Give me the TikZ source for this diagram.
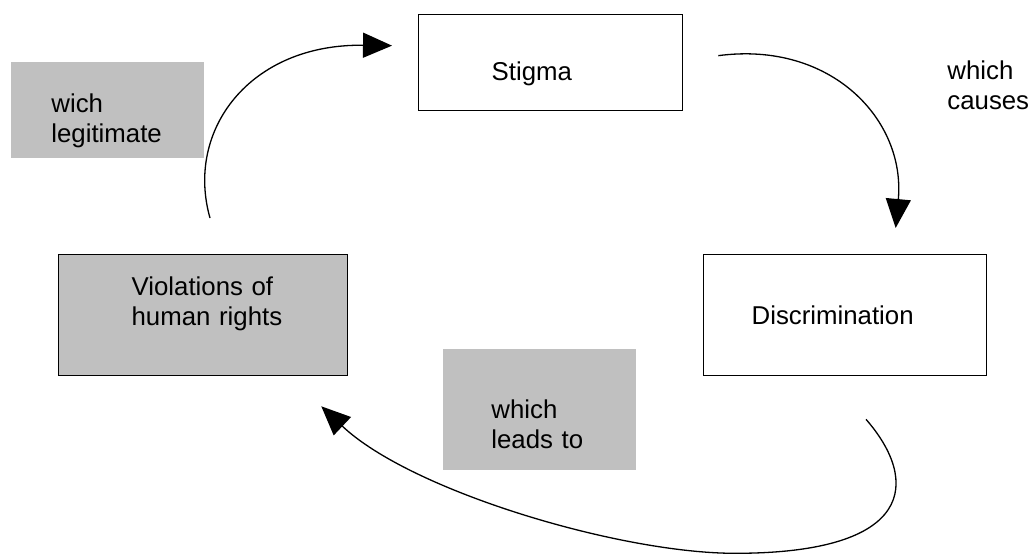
\documentclass[tikz,border=0pt]{standalone}
\usepackage{fontspec}
\setmainfont{Liberation Sans}
\usepackage{xcolor}
\usepackage{tikz}
\usetikzlibrary{arrows.meta,calc}

\definecolor{boxgrey}{HTML}{C0C0C0}

\begin{document}
\begin{tikzpicture}[
    x=0.5pt, y=-0.5pt,
    font=\fontsize{12.9}{15}\selectfont,
    block/.style={rectangle, draw, line width=0.65pt, anchor=north west, inner sep=0pt, align=left},
    note/.style={rectangle, fill=boxgrey, anchor=north west, inner sep=0pt, align=left},
    pad/.style={execute at begin node={\leftskip=#1\relax}},
    arrow/.style={-{Triangle[length=14.5pt, width=12.5pt]}, line width=0.65pt}
]
    \useasboundingbox (0,0) rectangle (1033,553);

    % Nodes
    \node[block, pad=36.5pt, text width=132pt, text height=33pt, text depth=15pt] (stigma) at (418,14) {Stigma};
    \node[block, pad=24pt, text width=141.5pt, text height=35pt, text depth=25.5pt] (discr) at (703,254) {Discrimination};
    \node[block, fill=boxgrey, pad=36.5pt, text width=144.5pt, text height=20.5pt, text depth=40pt] (viol) at (58,254) {Violations of\\human rights};

    % Labels
    \node[note, pad=20pt, text width=96.5pt, text height=25pt, text depth=23pt] (legit) at (11,62) {wich\\legitimate};
    \node[note, pad=24pt, text width=96.5pt, text height=34.5pt, text depth=26pt] (leads) at (443,349) {which\\leads to};
    \node[anchor=base west, inner sep=0pt, text width=44pt, align=left] (causes) at (947,79) {which\\causes};

    % Arrows
    \draw[arrow] ($(viol.north west)+(152,-36)$) .. controls +(-25,-88) and +(-142,-2) .. ($(stigma.west)+(-26,-17)$);
    \draw[arrow] ($(stigma.east)+(35,-7)$) .. controls +(113,-15) and +(10,-108) .. ($(discr.north)+(50.5,-26)$);
    \draw[arrow] ($(discr.south west)+(163,43)$) .. controls +(54,62) and +(180,0) .. ++(-131,134)
        .. controls +(-115,0) and +(90,85) .. ($(viol.south east)+(-27,30)$);
\end{tikzpicture}
\end{document}
